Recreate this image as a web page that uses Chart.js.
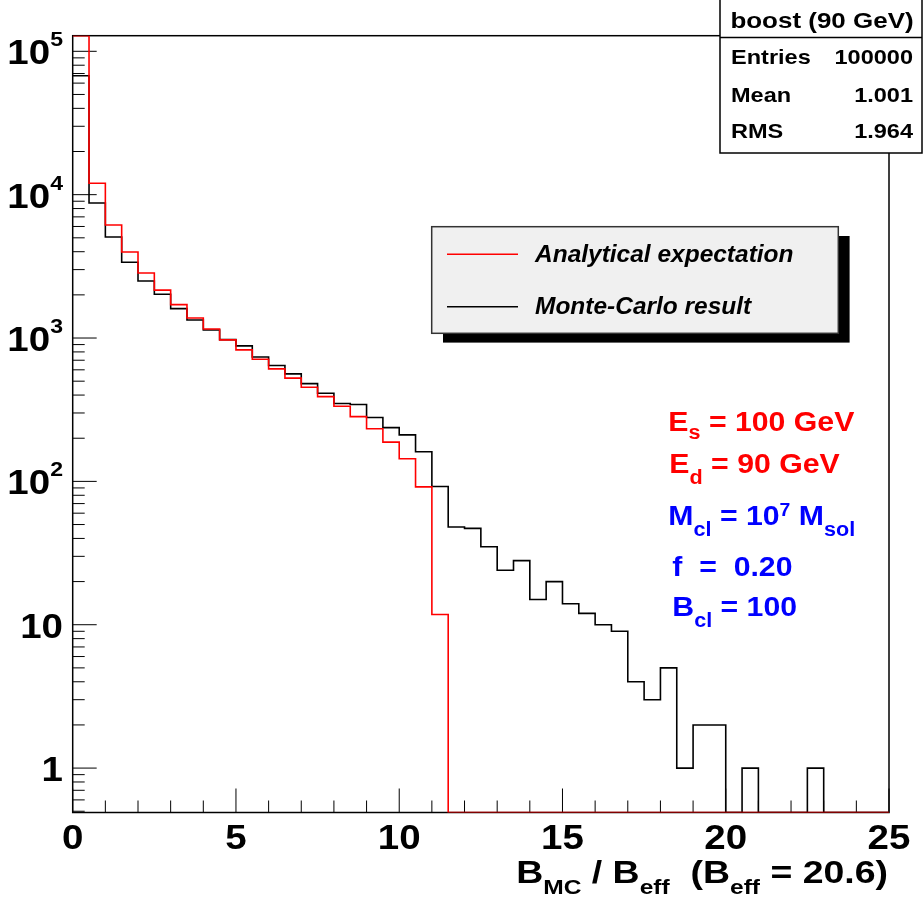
<!DOCTYPE html>
<html>
<head>
<meta charset="utf-8">
<script src="https://cdn.jsdelivr.net/npm/chart.js@4"></script>
<style>
  html, body { margin: 0; padding: 0; background: #fff; }
  #wrap { position: relative; width: 923px; height: 900px; }
</style>
</head>
<body>
<div id="wrap"><canvas id="hist"></canvas></div>
<script>
// histogram binning: 50 bins of width 0.5 on [0, 25]
var xMin = 0, xMax = 25, binWidth = 0.5;
var yMin = 0.49, yMax = 128500;

// Monte-Carlo result (black), counts per bin
var mcCounts = [
  67600, 8750, 5070, 3380, 2500, 2020, 1604, 1337, 1138, 975,
  881, 738, 643, 562, 481, 412, 349, 344, 279, 237,
  211, 161, 92, 48, 47, 35, 24, 28, 15, 20,
  14, 12, 10, 9, 4, 3, 5, 1, 2, 2,
  0, 1, 0, 0, 0, 1, 0, 0, 0, 0
];

// analytical expectation (red), first bin runs off the top of the frame
var analytic = [
  150000, 12010, 6150, 3980, 2845, 2160, 1710, 1380, 1156, 970,
  826, 711, 609, 525, 454, 390, 334, 283, 233, 188,
  144, 91.5, 11.8, 0, 0, 0, 0, 0, 0, 0,
  0, 0, 0, 0, 0, 0, 0, 0, 0, 0,
  0, 0, 0, 0, 0, 0, 0, 0, 0, 0
];

var seriesNames = ['Analytical expectation', 'Monte-Carlo result'];

var xTickValues = [0, 5, 10, 15, 20, 25];
var xTickLabels = ['0', '5', '10', '15', '20', '25'];
var yTickValues = [1, 10, 100, 1000, 10000, 100000];
var yTickBase = ['1', '10', '10', '10', '10', '10'];
var yTickExp = ['', '', '2', '3', '4', '5'];

var statsTitle = 'boost (90 GeV)';
var statsNames = ['Entries', 'Mean', 'RMS'];
var statsValues = ['100000', '1.001', '1.964'];

var FONT = '"Liberation Sans", Arial, Helvetica, sans-serif';

// values outside the frame are drawn on its edge, like ROOT does
function clampY(v) {
  return Math.min(Math.max(v, yMin), yMax);
}

function histPoints(values) {
  var pts = [];
  for (var i = 0; i < values.length; i++) {
    pts.push({ x: xMin + i * binWidth, y: clampY(values[i]) });
  }
  pts.push({ x: xMin + values.length * binWidth, y: clampY(values[values.length - 1]) });
  return pts;
}

// text made of pieces (sub/superscripts), stretched sideways by sx
function drawRich(ctx, parts, x, y, align, sx, color, style) {
  var total = 0;
  parts.forEach(function (p) {
    ctx.font = (style || '') + ' bold ' + p.size + 'px ' + FONT;
    p.w = ctx.measureText(p.t).width;
    total += p.w;
  });
  var start = x;
  if (align === 'right') start = x - total * sx;
  if (align === 'center') start = x - total * sx / 2;
  ctx.save();
  ctx.translate(start, y);
  ctx.scale(sx, 1);
  ctx.fillStyle = color;
  ctx.textAlign = 'left';
  ctx.textBaseline = 'alphabetic';
  var cx = 0;
  parts.forEach(function (p) {
    ctx.font = (style || '') + ' bold ' + p.size + 'px ' + FONT;
    ctx.fillText(p.t, cx, p.dy || 0);
    cx += p.w;
  });
  ctx.restore();
}

var rootFrame = {
  id: 'rootFrame',
  beforeDatasetsDraw: function (chart) {
    var ctx = chart.ctx, a = chart.chartArea;
    var xs = chart.scales.x, ys = chart.scales.y;
    ctx.save();
    ctx.strokeStyle = '#000';
    ctx.lineWidth = 1.5;
    ctx.strokeRect(a.left, a.top, a.right - a.left, a.bottom - a.top);

    // x ticks: every unit, longer every 5
    ctx.lineWidth = 1;
    ctx.beginPath();
    for (var v = xMin; v <= xMax; v++) {
      var px = xs.getPixelForValue(v);
      var len = v % 5 === 0 ? 24 : 12;
      ctx.moveTo(px, a.bottom);
      ctx.lineTo(px, a.bottom - len);
    }
    // y ticks: decades long, 2..9 short
    for (var e = -1; e <= 5; e++) {
      for (var m = 1; m <= 9; m++) {
        var val = m * Math.pow(10, e);
        if (val < yMin || val > yMax) continue;
        var py = ys.getPixelForValue(val);
        ctx.moveTo(a.left, py);
        ctx.lineTo(a.left + (m === 1 ? 24 : 12), py);
      }
    }
    ctx.stroke();
    ctx.restore();
  },
  afterDraw: function (chart) {
    var ctx = chart.ctx, a = chart.chartArea;
    var xs = chart.scales.x, ys = chart.scales.y;

    // tick labels
    xTickValues.forEach(function (v, i) {
      drawRich(ctx, [{ t: xTickLabels[i], size: 35 }], xs.getPixelForValue(v), 849, 'center', 1.1, '#000');
    });
    yTickValues.forEach(function (v, i) {
      var parts = [{ t: yTickBase[i], size: 35 }];
      if (yTickExp[i]) parts.push({ t: yTickExp[i], size: 21, dy: -18 });
      drawRich(ctx, parts, 63, ys.getPixelForValue(v) + 13, 'right', 1.1, '#000');
    });

    // x axis title
    drawRich(ctx, [
      { t: 'B', size: 32 }, { t: 'MC', size: 21, dy: 11 },
      { t: ' / B', size: 32 }, { t: 'eff', size: 21, dy: 11 },
      { t: '  (B', size: 32 }, { t: 'eff', size: 21, dy: 11 },
      { t: ' = 20.6)', size: 32 }
    ], 888, 882.7, 'right', 1.17, '#000');

    // legend with shadow
    ctx.save();
    ctx.fillStyle = '#000';
    ctx.fillRect(443, 236, 406.6, 106.6);
    ctx.fillStyle = '#f0f0f0';
    ctx.fillRect(431.7, 226.7, 406.6, 106.6);
    ctx.strokeStyle = '#333';
    ctx.lineWidth = 1.5;
    ctx.strokeRect(431.7, 226.7, 406.6, 106.6);
    ctx.lineWidth = 1.5;
    ctx.strokeStyle = chart.data.datasets[0].borderColor;
    ctx.beginPath(); ctx.moveTo(447, 254.3); ctx.lineTo(518, 254.3); ctx.stroke();
    ctx.strokeStyle = chart.data.datasets[1].borderColor;
    ctx.beginPath(); ctx.moveTo(447, 306.7); ctx.lineTo(518, 306.7); ctx.stroke();
    ctx.restore();
    drawRich(ctx, [{ t: seriesNames[0], size: 24 }], 535, 261.7, 'left', 1.02, '#000', 'italic');
    drawRich(ctx, [{ t: seriesNames[1], size: 24 }], 535, 314, 'left', 1.02, '#000', 'italic');

    // parameter annotations
    var red = '#ff0000', blue = '#0000ff', sx = 1.08;
    drawRich(ctx, [{ t: 'E', size: 28 }, { t: 's', size: 20, dy: 8 }, { t: ' = 100 GeV', size: 28 }], 668.3, 430.7, 'left', sx, red);
    drawRich(ctx, [{ t: 'E', size: 28 }, { t: 'd', size: 20, dy: 11 }, { t: ' = 90 GeV', size: 28 }], 669.3, 473.3, 'left', sx, red);
    drawRich(ctx, [{ t: 'M', size: 28 }, { t: 'cl', size: 20, dy: 11 }, { t: ' = 10', size: 28 },
      { t: '7', size: 18, dy: -9 }, { t: ' M', size: 28 }, { t: 'sol', size: 20, dy: 11 }], 668.3, 525, 'left', sx, blue);
    drawRich(ctx, [{ t: 'f  =  0.20', size: 28 }], 672.3, 576, 'left', sx, blue);
    drawRich(ctx, [{ t: 'B', size: 28 }, { t: 'cl', size: 20, dy: 11 }, { t: ' = 100', size: 28 }], 672.3, 616, 'left', sx, blue);

    // stats box
    ctx.save();
    ctx.fillStyle = '#fff';
    ctx.fillRect(720, 0, 202, 153);
    ctx.strokeStyle = '#000';
    ctx.lineWidth = 1.5;
    ctx.strokeRect(720, -2, 202, 155);
    ctx.beginPath(); ctx.moveTo(720, 37.5); ctx.lineTo(922, 37.5); ctx.stroke();
    ctx.restore();
    drawRich(ctx, [{ t: statsTitle, size: 22 }], 822, 28.3, 'center', 1.18, '#000');
    var rowBase = [64, 101.7, 138.3];
    statsNames.forEach(function (n, i) {
      drawRich(ctx, [{ t: n, size: 21 }], 731, rowBase[i], 'left', 1.12, '#000');
      drawRich(ctx, [{ t: statsValues[i], size: 21 }], 913, rowBase[i], 'right', 1.12, '#000');
    });
  }
};

function createHistChart() {
  var ctx = document.getElementById('hist').getContext('2d');
  new Chart(ctx, {
    type: 'line',
    data: {
      datasets: [{
        label: seriesNames[0],
        data: histPoints(analytic),
        borderColor: '#ff0000',
        borderWidth: 1.6,
        pointRadius: 0,
        stepped: true,
        fill: false
      }, {
        label: seriesNames[1],
        data: histPoints(mcCounts),
        borderColor: '#000000',
        borderWidth: 1.6,
        pointRadius: 0,
        stepped: true,
        fill: false
      }]
    },
    options: {
      responsive: true,
      maintainAspectRatio: false,
      animation: false,
      layout: { padding: { left: 72.7, right: 34, top: 35.7, bottom: 87.5 } },
      scales: {
        x: { type: 'linear', min: xMin, max: xMax, display: false },
        y: { type: 'logarithmic', min: yMin, max: yMax, display: false }
      },
      plugins: {
        legend: { display: false },
        tooltip: { enabled: false }
      }
    },
    plugins: [rootFrame]
  });
}

document.addEventListener('DOMContentLoaded', createHistChart);
</script>
</body>
</html>
